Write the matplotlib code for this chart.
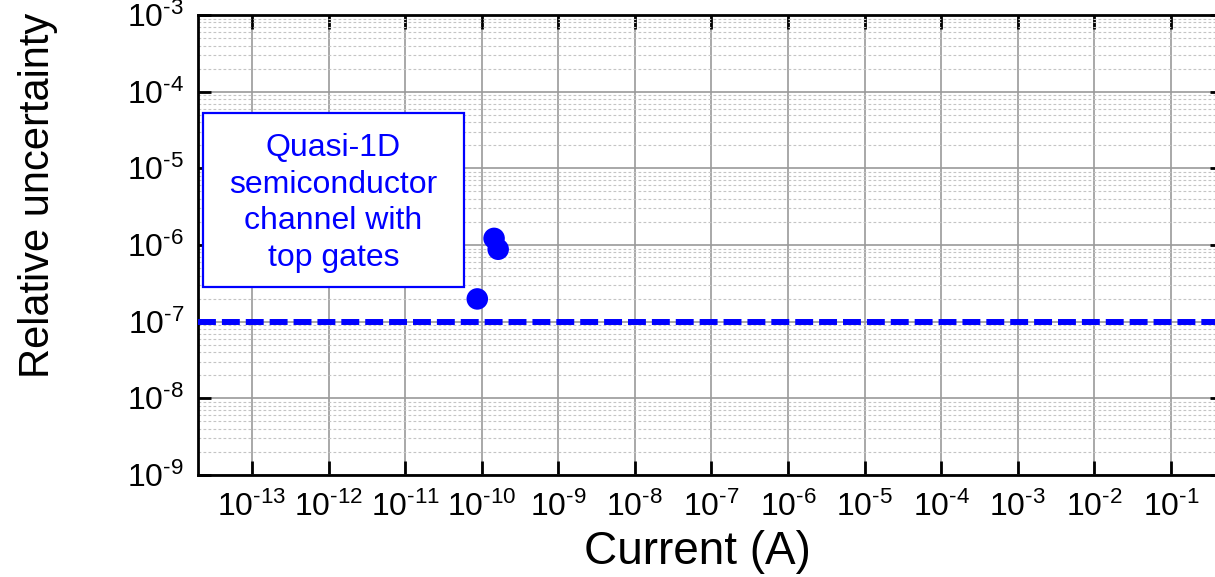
import numpy as np
import matplotlib
matplotlib.use("Agg")
import matplotlib.pyplot as plt
from matplotlib.patches import Rectangle
from matplotlib.ticker import LogLocator, NullFormatter, FuncFormatter

plt.rcParams["font.family"] = ["Liberation Sans", "DejaVu Sans"]
plt.rcParams["mathtext.fontset"] = "custom"
plt.rcParams["mathtext.rm"] = "Liberation Sans"
plt.rcParams["mathtext.default"] = "regular"

# data
current = [8.75e-11, 1.45e-10, 1.64e-10]
uncertainty = [1.98e-7, 1.22e-6, 8.8e-7]
target_level = 1e-7
box_text = "Quasi-1D\nsemiconductor\nchannel with\ntop gates"
x_ticks = [10.0 ** k for k in range(-13, 0)]
y_ticks = [10.0 ** k for k in range(-9, -2)]


def pow10(v, pos):
    # hyphen instead of the wide minus sign, like the original
    k = int(round(np.log10(v)))
    return r"$10^{\text{-%d}}$" % -k


W, H = 1215, 577
fig = plt.figure(figsize=(W / 100, H / 100), dpi=100)
ax = fig.add_axes([198 / W, 1 - 475 / H, (1222 - 198) / W, (475 - 15) / H])

ax.set_xscale("log")
ax.set_yscale("log")
ax.set_xlim(10 ** -13.705, 10 ** -0.333)
ax.set_ylim(1e-9, 1e-3)
ax.set_xticks(x_ticks)
ax.set_yticks(y_ticks)
ax.xaxis.set_major_formatter(FuncFormatter(pow10))
ax.yaxis.set_major_formatter(FuncFormatter(pow10))
ax.xaxis.set_minor_locator(LogLocator(base=10, subs=np.arange(2, 10), numticks=30))
ax.yaxis.set_minor_locator(LogLocator(base=10, subs=np.arange(2, 10), numticks=30))
ax.xaxis.set_minor_formatter(NullFormatter())
ax.yaxis.set_minor_formatter(NullFormatter())

ax.grid(True, which="major", color="#9a9a9a", lw=1.2, zorder=0)
ax.grid(True, which="minor", axis="y", color="#c4c4c4", lw=0.8, ls=(0, (2.5, 2)), zorder=0)
ax.set_axisbelow(True)

for s in ax.spines.values():
    s.set_linewidth(2)
ax.tick_params(which="major", axis="x", direction="in", length=10, width=2,
               top=True, bottom=True, labelsize=23, pad=12)
ax.tick_params(which="major", axis="y", direction="in", length=9, width=2,
               left=True, right=True, labelsize=23, pad=10)
ax.tick_params(which="minor", length=0)

ax.axhline(target_level, color="#0000ff", lw=4.3, ls=(0, (3, 1)), zorder=3)
ax.scatter(current, uncertainty, s=240, color="#0000ff", edgecolors="none", zorder=4)

ax.add_patch(Rectangle((5 / 1024, (475 - 287) / 460), 261 / 1024, 174 / 460,
                       transform=ax.transAxes, facecolor="white", edgecolor="#0000ff",
                       lw=1.6, zorder=5))
ax.text((333.5 - 198) / 1024, (475 - 203) / 460, box_text, transform=ax.transAxes,
        ha="center", va="center", color="#0000ff", fontsize=23, linespacing=1.28, zorder=6)

ax.set_xlabel("Current (A)", fontsize=33)
ax.xaxis.set_label_coords((697.5 - 198) / 1024, -(577 - 475 - 3) / 460)
ax.xaxis.label.set_va("bottom")
ax.set_ylabel("Relative uncertainty", fontsize=30)
ax.yaxis.set_label_coords(-(198 - 58) / 1024, (475 - 195) / 460)

fig.savefig("out.png", dpi=100)
